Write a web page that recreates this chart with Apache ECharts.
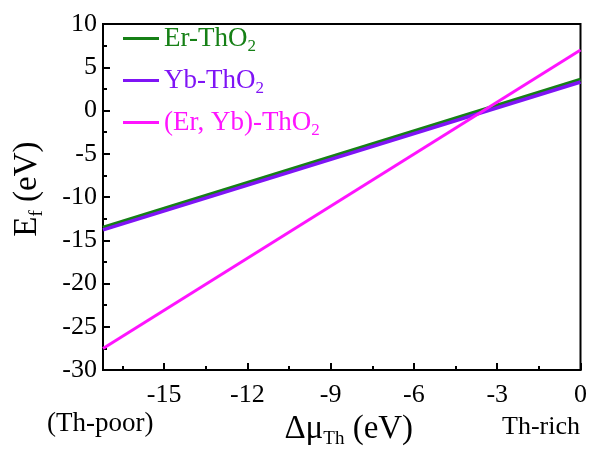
<!DOCTYPE html>
<html>
<head>
<meta charset="utf-8">
<script src="https://cdn.jsdelivr.net/npm/echarts@6/dist/echarts.min.js"></script>
<style>
  html, body { margin: 0; padding: 0; background: #fff; }
  #chart { width: 590px; height: 454px; }
</style>
</head>
<body>
<div id="chart"></div>
<script>
  // chemical potential range, Th-poor -> Th-rich
  const muTh = [-17.2, 0]
  const erThO2 = [-13.5, 3.6]
  const ybThO2 = [-13.8, 3.3]
  const erYbThO2 = [-27.5, 7.0]

  const xMajorTicks = [-15, -12, -9, -6, -3, 0]
  const xMinorTicks = [-16.5, -13.5, -10.5, -7.5, -4.5, -1.5]

  const seriesNames = ['Er-ThO2', 'Yb-ThO2', '(Er, Yb)-ThO2']
  const seriesColors = ['#168016', '#7f14f5', '#ff14ff']

  const font = 'Liberation Serif'

  const pairs = ys => muTh.map((x, i) => [x, ys[i]])

  const initChart = () => {
    const chart = echarts.init(document.getElementById('chart'))
    const option = {
      animation: false,
      textStyle: { fontFamily: font },
      grid: {
        left: 103,
        right: 9,
        top: 24,
        bottom: 76,
        show: true,
        borderColor: '#000',
        borderWidth: 2,
      },
      legend: {
        orient: 'vertical',
        left: 118,
        top: 20,
        icon: 'rect',
        itemWidth: 36,
        itemHeight: 3,
        itemGap: 12,
        formatter: function (name) {
          return '{t|' + name.slice(0, -1) + '}{s|2}'
        },
        data: seriesNames.map((n, i) => ({
          name: n,
          textStyle: {
            color: seriesColors[i],
            fontFamily: font,
            rich: {
              t: { fontSize: 27, fontFamily: font },
              s: { fontSize: 17, fontFamily: font, padding: [16, 0, 0, 0] },
            },
          },
        })),
      },
      xAxis: [
        {
          type: 'value',
          min: muTh[0],
          max: muTh[1],
          name: 'Δμ{s|Th} (eV)',
          nameLocation: 'middle',
          nameGap: 38,
          nameTextStyle: {
            color: '#000',
            fontSize: 33,
            fontFamily: font,
            padding: [0, 0, 0, 14],
            rich: {
              s: { fontSize: 19, fontFamily: font, padding: [20, 0, 0, 0] },
            },
          },
          axisLine: { show: true, onZero: false, lineStyle: { color: '#000', width: 2 } },
          axisTick: {
            inside: true,
            length: 7,
            customValues: xMajorTicks,
            lineStyle: { color: '#000', width: 2 },
          },
          axisLabel: {
            customValues: xMajorTicks,
            color: '#000',
            fontSize: 26,
            fontFamily: font,
            margin: 12,
          },
          splitLine: { show: false },
        },
        {
          type: 'value',
          min: muTh[0],
          max: muTh[1],
          position: 'bottom',
          axisLine: { show: false, onZero: false },
          axisTick: {
            inside: true,
            length: 4,
            customValues: xMinorTicks,
            lineStyle: { color: '#000', width: 2 },
          },
          axisLabel: { show: false },
          splitLine: { show: false },
        },
      ],
      yAxis: {
        type: 'value',
        min: -30,
        max: 10,
        interval: 5,
        name: 'E{s|f} (eV)',
        nameLocation: 'middle',
        nameGap: 56,
        nameTextStyle: {
          color: '#000',
          fontSize: 33,
          fontFamily: font,
          padding: [0, 0, 0, 16],
          rich: {
            s: { fontSize: 19, fontFamily: font, padding: [20, 0, 0, 0] },
          },
        },
        axisLine: { show: true, onZero: false, lineStyle: { color: '#000', width: 2 } },
        axisTick: { inside: true, length: 7, lineStyle: { color: '#000', width: 2 } },
        minorTick: { show: true, splitNumber: 2, length: 4, lineStyle: { color: '#000', width: 2 } },
        axisLabel: { color: '#000', fontSize: 26, fontFamily: font, margin: 6 },
        splitLine: { show: false },
      },
      graphic: [
        {
          type: 'text',
          left: 47,
          top: 410,
          style: { text: '(Th-poor)', fontSize: 27, fontFamily: font, fill: '#000' },
        },
        {
          type: 'text',
          right: 10,
          top: 414,
          style: { text: 'Th-rich', fontSize: 26, fontFamily: font, fill: '#000' },
        },
      ],
      series: [
        {
          name: seriesNames[0],
          type: 'line',
          showSymbol: false,
          lineStyle: { width: 3.5, color: seriesColors[0] },
          itemStyle: { color: seriesColors[0] },
          data: pairs(erThO2),
        },
        {
          name: seriesNames[1],
          type: 'line',
          showSymbol: false,
          lineStyle: { width: 3.5, color: seriesColors[1] },
          itemStyle: { color: seriesColors[1] },
          data: pairs(ybThO2),
        },
        {
          name: seriesNames[2],
          type: 'line',
          showSymbol: false,
          lineStyle: { width: 3, color: seriesColors[2] },
          itemStyle: { color: seriesColors[2] },
          data: pairs(erYbThO2),
        },
      ],
    }
    option && chart.setOption(option)
  }

  initChart()
</script>
</body>
</html>
